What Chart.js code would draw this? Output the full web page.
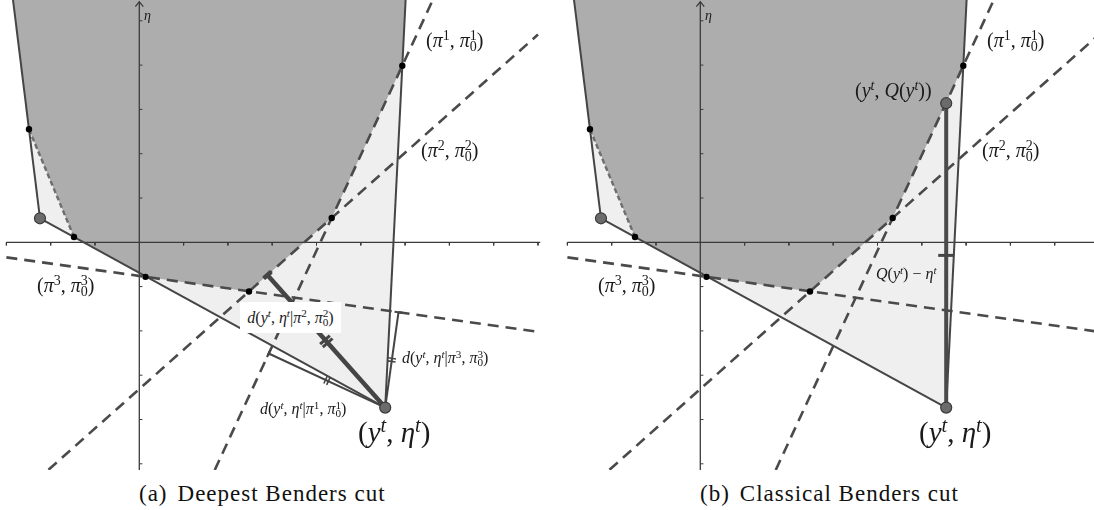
<!DOCTYPE html>
<html><head><meta charset="utf-8">
<script src="https://cdn.jsdelivr.net/npm/chart.js@4.4.1/dist/chart.umd.min.js"></script>
<style>
body{margin:0;width:1094px;height:510px;background:#fff;position:relative;overflow:hidden;}
.pn{position:absolute;top:0;height:470px;}
.pn canvas{display:block;}
.m{position:absolute;font-family:"Liberation Serif","Times New Roman",serif;white-space:nowrap;color:#1a1a1a;line-height:1;}
.m i{font-style:italic;}
.m sup,.m sub{font-size:0.7em;line-height:0;position:relative;vertical-align:baseline;}
.m sup{top:-0.48em;}
.m sub{top:0.3em;}
.m sub.st{margin-left:-0.5em;}
.big{font-size:29px;}
.mid{font-size:20px;}
.sm{font-size:16px;}
.box{background:#fff;width:101px;height:31px;display:flex;align-items:center;justify-content:center;}
.cap{position:absolute;top:482px;font-family:"Liberation Serif","Times New Roman",serif;font-size:23px;letter-spacing:1px;line-height:1;white-space:nowrap;color:#111;}
.gap{display:inline-block;width:10px;}
</style>
</head>
<body>
<div class="pn" style="left:0;width:545px;"><canvas id="ca" width="545" height="470" style="width:545px;height:470px"></canvas></div>
<div class="pn" style="left:561px;width:533px;"><canvas id="cb" width="533" height="470" style="width:533px;height:470px"></canvas></div>

<!-- left panel labels -->
<div class="m" style="left:144px;top:9px;font-size:14px;"><i>η</i></div>
<div class="m mid" style="left:426px;top:30px;">(<i>π</i><sup>1</sup>, <i>π</i><sup>1</sup><sub class="st">0</sub>)</div>
<div class="m mid" style="left:421px;top:140px;">(<i>π</i><sup>2</sup>, <i>π</i><sup>2</sup><sub class="st">0</sub>)</div>
<div class="m mid" style="left:37px;top:275px;">(<i>π</i><sup>3</sup>, <i>π</i><sup>3</sup><sub class="st">0</sub>)</div>
<div class="m big" style="left:358px;top:418px;">(<i>y</i><sup><i>t</i></sup>, <i>η</i><sup><i>t</i></sup>)</div>
<div class="m sm box" style="left:240px;top:302px;"><span><i>d</i>(<i>y</i><sup><i>t</i></sup>, <i>η</i><sup><i>t</i></sup>|<i>π</i><sup>2</sup>, <i>π</i><sup>2</sup><sub class="st">0</sub>)</span></div>
<div class="m sm" style="left:402px;top:350px;"><i>d</i>(<i>y</i><sup><i>t</i></sup>, <i>η</i><sup><i>t</i></sup>|<i>π</i><sup>3</sup>, <i>π</i><sup>3</sup><sub class="st">0</sub>)</div>
<div class="m sm" style="left:260px;top:401px;"><i>d</i>(<i>y</i><sup><i>t</i></sup>, <i>η</i><sup><i>t</i></sup>|<i>π</i><sup>1</sup>, <i>π</i><sup>1</sup><sub class="st">0</sub>)</div>

<!-- right panel labels -->
<div class="m" style="left:705px;top:9px;font-size:14px;"><i>η</i></div>
<div class="m mid" style="left:987px;top:30px;">(<i>π</i><sup>1</sup>, <i>π</i><sup>1</sup><sub class="st">0</sub>)</div>
<div class="m mid" style="left:982px;top:140px;">(<i>π</i><sup>2</sup>, <i>π</i><sup>2</sup><sub class="st">0</sub>)</div>
<div class="m mid" style="left:598px;top:275px;">(<i>π</i><sup>3</sup>, <i>π</i><sup>3</sup><sub class="st">0</sub>)</div>
<div class="m big" style="left:919px;top:418px;">(<i>y</i><sup><i>t</i></sup>, <i>η</i><sup><i>t</i></sup>)</div>
<div class="m mid" style="left:855px;top:80px;">(<i>y</i><sup><i>t</i></sup>, <i>Q</i>(<i>y</i><sup><i>t</i></sup>))</div>
<div class="m sm" style="left:876px;top:266px;"><i>Q</i>(<i>y</i><sup><i>t</i></sup>) − <i>η</i><sup><i>t</i></sup></div>

<div class="cap" style="left:139px;">(a)<span class="gap"></span>Deepest Benders cut</div>
<div class="cap" style="left:700px;">(b)<span class="gap"></span>Classical Benders cut</div>

<script>
// ---------- data (grid units) ----------
const xTickVals = [-3, -2, -1, 1, 2, 3, 4, 5, 6, 7, 8, 9];
const yTickVals = [-5, -4, -3, -2, -1, 1, 2, 3, 4, 5];
const xAxisRange = [-3.0, 9.05];
const yAxisRange = [-5.14, 5.43];

// outer approximation boundary (light region): top-left, previous iterate, (y^t, eta^t), top-right
const outerX = [-2.916, -2.242, 5.551, 6.038];
const outerY = [6.0, 0.542, -3.731, 6.0];

// epigraph boundary of Q (dark region)
const epiX = [-2.916, -2.490, -1.474, 0.140, 2.476, 4.343, 5.937, 6.038];
const epiY = [6.0, 2.551, 0.120, -0.780, -1.110, 0.550, 3.986, 6.0];

// small black vertices
const vertexX = [-2.490, -1.474, 0.140, 2.476, 4.343, 5.937];
const vertexY = [2.551, 0.120, -0.780, -1.110, 0.550, 3.986];

// iterates (big grey points): previous iterate and (y^t, eta^t)
const iterX = [-2.242, 5.551];
const iterY = [0.542, -3.731];

// cuts (dashed lines)
const cut1X = [1.703, 6.871];  const cut1Y = [-5.14, 6.0];     // (pi^1, pi^1_0)
const cut2X = [-2.05, 9.0];    const cut2Y = [-5.135, 4.690];  // (pi^2, pi^2_0)
const cut3X = [-3.0, 9.0];     const cut3Y = [-0.340, -2.020]; // (pi^3, pi^3_0)
const oldCutX = [-2.490, -1.474]; const oldCutY = [2.551, 0.120];

// projections of (y^t, eta^t) onto cuts pi^1, pi^2, pi^3
const footX = [2.920, 2.892, 5.851];
const footY = [-2.510, -0.740, -1.579];

// classical cut: (y^t, Q(y^t))
const qX = [5.551];
const qY = [3.140];

// ---------- helpers ----------
const DARK = '#454545';
function pts(xs, ys){ return xs.map((x,i)=>({x:x, y:ys[i]})); }
function seg(data, o){
  return Object.assign({data:data, showLine:true, pointRadius:0, pointHoverRadius:0,
    borderColor:DARK, borderWidth:2, fill:false, tension:0, order:5}, o||{});
}
function ticksAt(x1,y1,x2,y2,n,gap){
  const dx=x2-x1, dy=y2-y1, L=Math.hypot(dx,dy), ux=dx/L, uy=dy/L;
  const mx=(x1+x2)/2, my=(y1+y2)/2;
  const rot = Math.atan2(-dy,dx)*180/Math.PI + 90;
  const out=[];
  for(let k=0;k<n;k++){ const s=(k-(n-1)/2)*gap; out.push({x:mx+ux*s, y:my+uy*s}); }
  return {points:out, rot:rot};
}
function markDs(t, r, w, o){
  return Object.assign({data:t.points, showLine:false, pointStyle:'line', pointRadius:r, pointHoverRadius:r,
    pointRotation:t.rot, pointBorderColor:DARK, pointBorderWidth:w, order:3}, o||{});
}

function buildDatasets(kind){
  const ds=[];
  ds.push(seg(pts(outerX, outerY), {borderWidth:0, fill:'end', backgroundColor:'#efefef', order:11}));
  ds.push(seg(pts(epiX, epiY), {borderWidth:0, fill:'end', backgroundColor:'#adadad', order:10}));
  // axes
  ds.push(seg([{x:xAxisRange[0],y:0},{x:xAxisRange[1],y:0}], {borderColor:'#3a3a3a', borderWidth:1.3, order:8}));
  ds.push(seg([{x:0,y:yAxisRange[0]},{x:0,y:yAxisRange[1]}], {borderColor:'#3a3a3a', borderWidth:1.3, order:8}));
  ds.push(seg([{x:-0.09,y:yAxisRange[1]-0.11},{x:0,y:yAxisRange[1]},{x:0.09,y:yAxisRange[1]-0.11}], {borderColor:'#3a3a3a', borderWidth:1.2, order:8}));
  xTickVals.forEach(t=>ds.push(seg([{x:t,y:0},{x:t,y:-0.07}], {borderColor:'#3a3a3a', borderWidth:1, order:8})));
  yTickVals.forEach(t=>ds.push(seg([{x:0,y:t},{x:0.07,y:t}], {borderColor:'#3a3a3a', borderWidth:1, order:8})));
  // cuts
  const dash={borderColor:'#4a4a4a', borderWidth:2.6, borderDash:[11,7], order:6};
  ds.push(seg(pts(cut1X,cut1Y), dash));
  ds.push(seg(pts(cut2X,cut2Y), dash));
  ds.push(seg(pts(cut3X,cut3Y), dash));
  ds.push(seg(pts(oldCutX,oldCutY), {borderColor:'#6e6e6e', borderWidth:2.4, borderDash:[5,3], order:6}));
  // outer approximation solid lines
  ds.push(seg(pts(outerX.slice(0,2), outerY.slice(0,2)), {order:5}));
  ds.push(seg(pts(outerX.slice(1,3), outerY.slice(1,3)), {order:5}));
  ds.push(seg(pts(outerX.slice(2,4), outerY.slice(2,4)), {order:5}));

  const Px=iterX[1], Py=iterY[1];
  if(kind==='deep'){
    const widths=[2,4.5,2], tr=[4,6.5,4], tw=[1.6,3,1.6];
    for(let i=0;i<3;i++){
      ds.push(seg([{x:Px,y:Py},{x:footX[i],y:footY[i]}], {borderWidth:widths[i], order:4}));
      const t=ticksAt(Px,Py,footX[i],footY[i],2, i===1?0.09:0.07);
      ds.push(markDs(t, tr[i], tw[i]));
      const f=ticksAt(Px,Py,footX[i],footY[i],1,0);
      f.points=[{x:footX[i],y:footY[i]}];
      ds.push(markDs(f, i===1?5:4, widths[i]));
    }
  } else {
    ds.push(seg([{x:qX[0],y:qY[0]},{x:Px,y:Py}], {borderColor:'#4a4a4a', borderWidth:4, order:4}));
    const t=ticksAt(qX[0],qY[0],Px,Py,1,0);
    ds.push(markDs(t, 8, 3));
  }
  ds.push({data:pts(vertexX,vertexY), showLine:false, pointRadius:3.2, pointHoverRadius:3.2,
    pointBackgroundColor:'#000', pointBorderColor:'#000', pointBorderWidth:0, order:1});
  const bx = kind==='deep'? iterX : iterX.concat(qX);
  const by = kind==='deep'? iterY : iterY.concat(qY);
  ds.push({data:pts(bx,by), showLine:false, pointRadius:5.5, pointHoverRadius:5.5,
    pointBackgroundColor:'#6b6b6b', pointBorderColor:'#3a3a3a', pointBorderWidth:1.2, order:0});
  return ds;
}

const UNIT = 44.3;
function makeChart(id, originPx, left, width, kind){
  const xMin=(left-originPx)/UNIT, xMax=(left+width-originPx)/UNIT;
  const yMax=242.3/UNIT, yMin=(242.3-470)/UNIT;
  return new Chart(document.getElementById(id), {
    type:'line',
    data:{datasets:buildDatasets(kind)},
    options:{
      responsive:false, animation:false, devicePixelRatio:1,
      layout:{padding:0, autoPadding:false},
      scales:{
        x:{type:'linear', min:xMin, max:xMax, display:false},
        y:{type:'linear', min:yMin, max:yMax, display:false}
      },
      plugins:{legend:{display:false}, tooltip:{enabled:false}},
      events:[]
    }
  });
}
makeChart('ca', 139.3, 0, 545, 'deep');
makeChart('cb', 700.3, 561, 533, 'classic');
</script>
</body></html>
